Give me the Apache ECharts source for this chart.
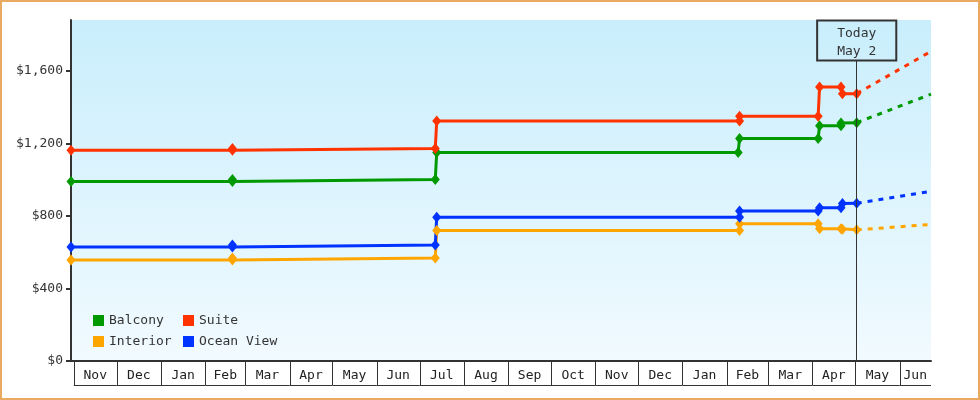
<!DOCTYPE html>
<html>
<head>
<meta charset="utf-8">
<script src="https://cdn.jsdelivr.net/npm/echarts@6/dist/echarts.min.js"></script>
<style>
  html, body { margin: 0; padding: 0; background: #fff; }
  #wrap { position: relative; width: 980px; height: 400px; }
  #chart { position: absolute; left: 0; top: 0; width: 980px; height: 400px; }
  #frame { position: absolute; left: 0; top: 0; width: 980px; height: 400px; box-sizing: border-box; border: 2px solid #e9a963; pointer-events: none; }
</style>
</head>
<body>
<div id="wrap"><div id="chart"></div><div id="frame"></div></div>
<script>
// ---- data ----
const axisStart = '2022-10-30';
const axisEnd = '2024-06-23';
const todayDate = '2024-05-02';
const todayLabel = 'Today\nMay 2';

const yTicks = [0, 400, 800, 1200, 1600];

const monthStarts = ['2022-11-01','2022-12-01','2023-01-01','2023-02-01','2023-03-01','2023-04-01','2023-05-01','2023-06-01','2023-07-01','2023-08-01','2023-09-01','2023-10-01','2023-11-01','2023-12-01','2024-01-01','2024-02-01','2024-03-01','2024-04-01','2024-05-01','2024-06-01'];
const monthEnds   = ['2022-12-01','2023-01-01','2023-02-01','2023-03-01','2023-04-01','2023-05-01','2023-06-01','2023-07-01','2023-08-01','2023-09-01','2023-10-01','2023-11-01','2023-12-01','2024-01-01','2024-02-01','2024-03-01','2024-04-01','2024-05-01','2024-06-01','2024-07-01'];
const monthLabels = ['Nov','Dec','Jan','Feb','Mar','Apr','May','Jun','Jul','Aug','Sep','Oct','Nov','Dec','Jan','Feb','Mar','Apr','May','Jun'];

const balconyDates  = ['2022-10-30','2023-02-20','2023-02-20','2023-07-12','2023-07-13','2024-02-09','2024-02-10','2024-04-05','2024-04-06','2024-04-21','2024-04-21','2024-05-02'];
const balconyValues = [989, 989, 1000, 1000, 1150, 1150, 1227, 1227, 1297, 1297, 1312, 1314];
const balconyForecastDates  = ['2024-05-02','2024-06-23'];
const balconyForecastValues = [1314, 1471];

const suiteDates  = ['2022-10-30','2023-02-20','2023-02-20','2023-07-12','2023-07-13','2024-02-10','2024-02-10','2024-04-05','2024-04-06','2024-04-21','2024-04-22','2024-05-02'];
const suiteValues = [1162, 1162, 1172, 1172, 1323, 1323, 1349, 1349, 1510, 1510, 1474, 1474];
const suiteForecastDates  = ['2024-05-02','2024-06-23'];
const suiteForecastValues = [1474, 1707];

const interiorDates  = ['2022-10-30','2023-02-20','2023-02-20','2023-07-12','2023-07-13','2024-02-10','2024-02-10','2024-04-05','2024-04-06','2024-04-21','2024-04-22','2024-05-02'];
const interiorValues = [557, 557, 568, 568, 720, 720, 757, 757, 729, 729, 726, 723];
const interiorForecastDates  = ['2024-05-02','2024-06-23'];
const interiorForecastValues = [723, 753];

const oceanDates  = ['2022-10-30','2023-02-20','2023-02-20','2023-07-12','2023-07-13','2024-02-10','2024-02-10','2024-04-05','2024-04-06','2024-04-21','2024-04-22','2024-05-02'];
const oceanValues = [629, 629, 640, 640, 792, 792, 827, 827, 845, 845, 868, 870];
const oceanForecastDates  = ['2024-05-02','2024-06-23'];
const oceanForecastValues = [870, 936];

// ---- chart ----
const FONT = '"DejaVu Sans Mono", monospace';
const TXT = '#333';
const zip = (d, v) => d.map((x, i) => [x, v[i]]);

function stepSeries(name, color, dates, values) {
  return {
    name, type: 'line', data: zip(dates, values),
    symbol: 'diamond', symbolSize: [9, 11], showAllSymbol: true,
    itemStyle: { color }, lineStyle: { color, width: 3 },
    z: 3, animation: false
  };
}
function forecastSeries(name, color, dates, values) {
  return {
    name, type: 'line', data: zip(dates, values),
    symbol: 'none', lineStyle: { color, width: 3, type: [5, 6] },
    z: 2, animation: false
  };
}

const chart = echarts.init(document.getElementById('chart'), null, { renderer: 'canvas' });
const monthData = monthStarts.map((s, i) => [s, monthEnds[i], 0]);

const option = {
  animation: false,
  textStyle: { fontFamily: FONT },
  grid: {
    left: 71, right: 49, top: 20, bottom: 39,
    show: true, borderWidth: 0,
    backgroundColor: new echarts.graphic.LinearGradient(0, 0, 0, 1, [
      { offset: 0, color: '#c9eefc' },
      { offset: 1, color: '#f1faff' }
    ])
  },
  legend: {
    data: ['Balcony', 'Suite', 'Interior', 'Ocean View'],
    left: 93, top: 314, width: 200, orient: 'horizontal',
    itemWidth: 11, itemHeight: 11, itemGap: 8, padding: 0,
    icon: 'rect',
    textStyle: { fontFamily: FONT, fontSize: 13, color: TXT, width: 66, lineHeight: 12 },
    selectedMode: false
  },
  xAxis: {
    type: 'time', min: axisStart, max: axisEnd,
    axisLine: { show: true, lineStyle: { color: TXT, width: 2 } },
    axisTick: { show: false }, axisLabel: { show: false }, splitLine: { show: false }
  },
  yAxis: {
    type: 'value', min: 0, max: 1880,
    axisLine: { show: true, lineStyle: { color: TXT, width: 2 } },
    axisTick: { show: true, length: 5, lineStyle: { color: TXT, width: 2 }, customValues: yTicks },
    axisLabel: {
      customValues: yTicks, margin: 8,
      fontFamily: FONT, fontSize: 13, color: TXT,
      formatter: v => '$' + v.toLocaleString('en-US')
    },
    splitLine: { show: false }
  },
  series: [
    Object.assign(stepSeries('Balcony', '#009900', balconyDates, balconyValues), {
      markLine: {
        silent: true, symbol: 'none', animation: false,
        lineStyle: { color: TXT, width: 1, type: 'solid' },
        label: {
          show: true, position: 'end', distance: 0,
          formatter: todayLabel,
          fontFamily: FONT, fontSize: 13, color: TXT, lineHeight: 18,
          borderColor: TXT, borderWidth: 1, padding: [4, 20, 0, 20],
          backgroundColor: 'transparent'
        },
        data: [[{ coord: [todayDate, 0] }, { coord: [todayDate, 1657] }]]
      }
    }),
    stepSeries('Suite', '#ff3300', suiteDates, suiteValues),
    stepSeries('Interior', '#ffa500', interiorDates, interiorValues),
    stepSeries('Ocean View', '#0033ff', oceanDates, oceanValues),
    forecastSeries('Balcony', '#009900', balconyForecastDates, balconyForecastValues),
    forecastSeries('Suite', '#ff3300', suiteForecastDates, suiteForecastValues),
    forecastSeries('Interior', '#ffa500', interiorForecastDates, interiorForecastValues),
    forecastSeries('Ocean View', '#0033ff', oceanForecastDates, oceanForecastValues),
    {
      name: 'months', type: 'custom', clip: false, silent: true, z: 1,
      dimensions: [{ name: 's', type: 'time' }, { name: 'e', type: 'time' }, { name: 'v', type: 'number' }],
      encode: { x: [0, 1], y: 2 },
      data: monthData,
      renderItem: (params, api) => {
        const cs = params.coordSys;
        const x0 = Math.max(api.coord([api.value(0), 0])[0], cs.x);
        const x1 = Math.min(api.coord([api.value(1), 0])[0], cs.x + cs.width);
        const yTop = cs.y + cs.height;
        const yBot = yTop + 24;
        return {
          type: 'group',
          children: [
            { type: 'line', shape: { x1: Math.round(x0) + 0.5, y1: yTop, x2: Math.round(x0) + 0.5, y2: yBot }, style: { stroke: TXT, lineWidth: 1 } },
            { type: 'line', shape: { x1: x0, y1: yBot + 0.5, x2: x1, y2: yBot + 0.5 }, style: { stroke: TXT, lineWidth: 1 } },
            { type: 'text', style: { text: monthLabels[params.dataIndex], x: (x0 + x1) / 2, y: (yTop + yBot) / 2 + 3, align: 'center', verticalAlign: 'middle', font: '13px ' + FONT, fill: '#222' } }
          ]
        };
      }
    }
  ]
};
chart.setOption(option);
</script>
</body>
</html>
